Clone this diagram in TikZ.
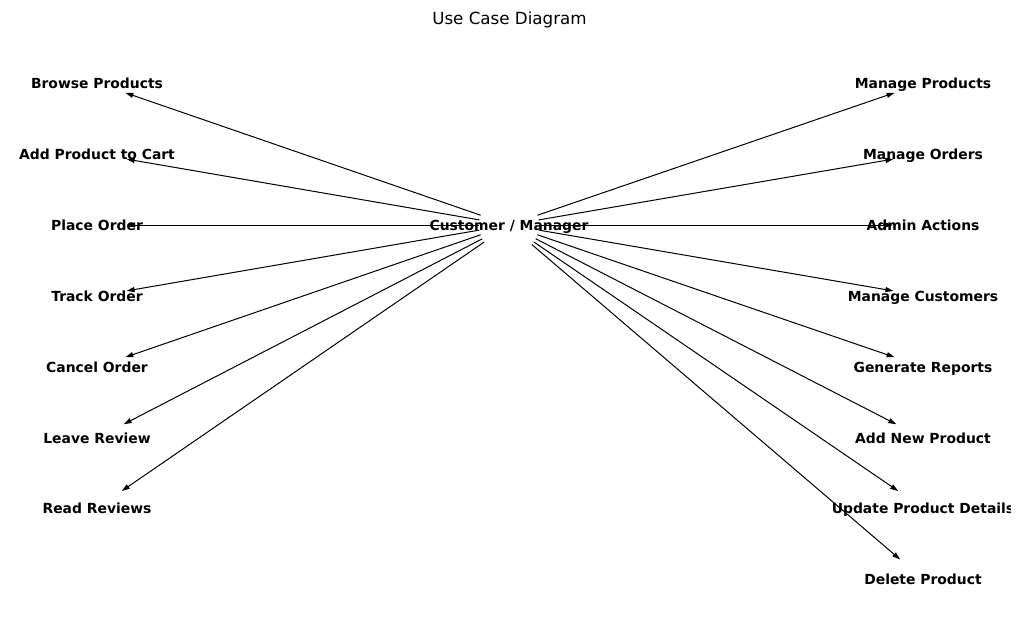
\documentclass[tikz,border=0pt]{standalone}
\usepackage{fontspec}
\setmainfont{DejaVu Sans}
\usetikzlibrary{arrows.meta}

\tikzset{
    usecase/.style = {font=\fontsize{13.9}{16}\selectfont\bfseries, inner sep=0pt,
        text height=14pt, text depth=3pt},
    link/.style = {line width=1pt, -{Triangle[length=8pt, width=5pt]},
        shorten <=30pt, shorten >=30pt}
}

\begin{document}
\begin{tikzpicture}[x=1pt, y=-1pt]
    \useasboundingbox (0, 0) rectangle (1019, 642);
    \clip (0, 0) rectangle (1010, 642);
    \node[font=\fontsize{16.7}{19}\selectfont] (title) at (509.5, 19.5) {Use Case Diagram};

    \node[usecase] (user) at (509, 225) {Customer / Manager};

    % customer side
    \node[usecase] (browse) at (97, 83) {Browse Products};
    \node[usecase] (addcart) at (97, 154) {Add Product to Cart};
    \node[usecase] (place) at (97, 225) {Place Order};
    \node[usecase] (track) at (97, 296) {Track Order};
    \node[usecase] (cancel) at (97, 367) {Cancel Order};
    \node[usecase] (review) at (97, 438) {Leave Review};
    \node[usecase] (readrev) at (97, 508) {Read Reviews};

    % manager side
    \node[usecase] (manprod) at (923, 83) {Manage Products};
    \node[usecase] (manord) at (923, 154) {Manage Orders};
    \node[usecase] (admin) at (923, 225) {Admin Actions};
    \node[usecase] (mancust) at (923, 296) {Manage Customers};
    \node[usecase] (reports) at (923, 367) {Generate Reports};
    \node[usecase] (addnew) at (923, 438) {Add New Product};
    \node[usecase] (update) at (923, 508) {Update Product Details};
    \node[usecase] (delete) at (923, 579) {Delete Product};

    \foreach \uc in {browse, addcart, place, track, cancel, review, readrev,
        manprod, manord, admin, mancust, reports, addnew, update, delete}
        \draw[link] (user.center) -- (\uc.center);
\end{tikzpicture}
\end{document}
